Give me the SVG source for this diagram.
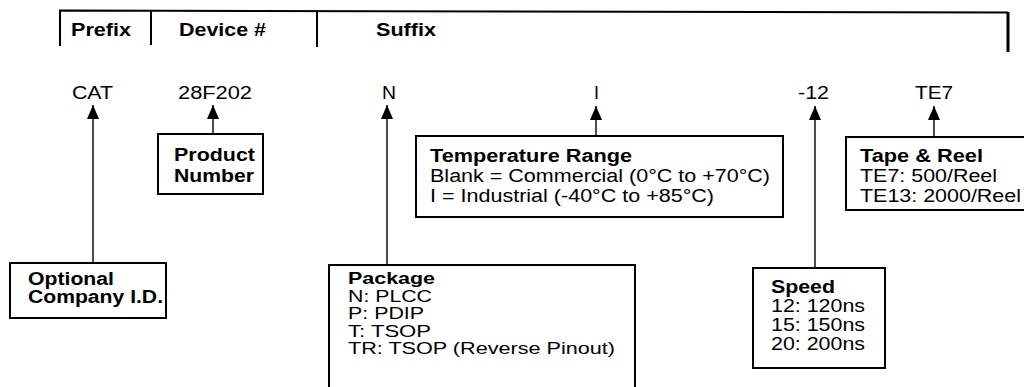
<svg xmlns="http://www.w3.org/2000/svg" width="1024" height="387" viewBox="0 0 1024 387">
<defs>
<style>
text{font-family:"Liberation Sans",Arial,sans-serif;font-size:18px;fill:#000;}
.b{font-weight:bold;}
.s{font-size:16px;}
.box{fill:#fff;stroke:#000;stroke-width:2;}
.hdr{stroke:#000;stroke-width:2;fill:none;}
.conn{stroke:#000;stroke-width:1.4;fill:none;marker-end:url(#ah);}
</style>
<marker id="ah" markerUnits="userSpaceOnUse" markerWidth="14" markerHeight="12" viewBox="0 0 14 12" refX="14" refY="6" orient="auto">
<path d="M0,0 L14,6 L0,12 Z" fill="#000"/>
</marker>
</defs>
<rect width="1024" height="387" fill="#fff"/>
<g id="header">
<path class="hdr" d="M60,46 V10.5 L1008,12.5"/>
<path class="hdr" d="M151,10.5 V45"/>
<path class="hdr" d="M317,11 V47"/>
<path d="M1008,12 V52" stroke="#000" stroke-width="3" fill="none"/>
<text class="b" x="71" y="36" textLength="60" lengthAdjust="spacingAndGlyphs">Prefix</text>
<text class="b" x="179" y="36" textLength="87" lengthAdjust="spacingAndGlyphs">Device #</text>
<text class="b" x="376" y="36" textLength="60" lengthAdjust="spacingAndGlyphs">Suffix</text>
</g>
<g id="codes">
<text x="72" y="99" textLength="41" lengthAdjust="spacingAndGlyphs">CAT</text>
<text x="178" y="99" textLength="74" lengthAdjust="spacingAndGlyphs">28F202</text>
<text x="382" y="99" textLength="14" lengthAdjust="spacingAndGlyphs">N</text>
<text x="594" y="99" textLength="5" lengthAdjust="spacingAndGlyphs">I</text>
<text x="798" y="99" textLength="31" lengthAdjust="spacingAndGlyphs">-12</text>
<text x="915" y="99" textLength="38" lengthAdjust="spacingAndGlyphs">TE7</text>
</g>
<g id="connectors">
<line class="conn" x1="93" y1="263" x2="93" y2="105"/>
<line class="conn" x1="213" y1="134" x2="213" y2="105"/>
<line class="conn" x1="387" y1="265" x2="387" y2="105"/>
<line class="conn" x1="596" y1="136" x2="596" y2="106"/>
<line class="conn" x1="815" y1="268" x2="815" y2="106"/>
<line class="conn" x1="934" y1="137" x2="934" y2="106"/>
</g>
<g id="product-number">
<rect class="box" x="158" y="134" width="105" height="60"/>
<text class="b" x="174" y="161" textLength="81" lengthAdjust="spacingAndGlyphs">Product</text>
<text class="b" x="174" y="182" textLength="80" lengthAdjust="spacingAndGlyphs">Number</text>
</g>
<g id="company-id">
<rect class="box" x="10" y="263" width="156" height="55"/>
<text class="b" x="28" y="285" textLength="86" lengthAdjust="spacingAndGlyphs">Optional</text>
<text class="b" x="28" y="303" textLength="135" lengthAdjust="spacingAndGlyphs">Company I.D.</text>
</g>
<g id="package">
<rect class="box" x="329" y="265" width="306" height="140"/>
<text class="b s" x="348" y="284" textLength="87" lengthAdjust="spacingAndGlyphs">Package</text>
<text class="s" x="348" y="301.5" textLength="84" lengthAdjust="spacingAndGlyphs">N: PLCC</text>
<text class="s" x="348" y="319" textLength="76" lengthAdjust="spacingAndGlyphs">P: PDIP</text>
<text class="s" x="348" y="336.5" textLength="83" lengthAdjust="spacingAndGlyphs">T: TSOP</text>
<text class="s" x="348" y="354" textLength="267" lengthAdjust="spacingAndGlyphs">TR: TSOP (Reverse Pinout)</text>
</g>
<g id="temperature-range">
<rect class="box" x="416" y="136" width="367" height="81"/>
<text class="b" x="430" y="162" textLength="202" lengthAdjust="spacingAndGlyphs">Temperature Range</text>
<text x="430" y="182" textLength="340" lengthAdjust="spacingAndGlyphs">Blank = Commercial (0°C to +70°C)</text>
<text x="430" y="202" textLength="284" lengthAdjust="spacingAndGlyphs">I = Industrial (-40°C to +85°C)</text>
</g>
<g id="speed">
<rect class="box" x="753" y="268" width="132" height="100"/>
<text class="b" x="771" y="293" textLength="64" lengthAdjust="spacingAndGlyphs">Speed</text>
<text x="771" y="312" textLength="94" lengthAdjust="spacingAndGlyphs">12: 120ns</text>
<text x="771" y="331" textLength="94" lengthAdjust="spacingAndGlyphs">15: 150ns</text>
<text x="771" y="350" textLength="94" lengthAdjust="spacingAndGlyphs">20: 200ns</text>
</g>
<g id="tape-reel">
<rect class="box" x="846" y="137" width="190" height="73"/>
<text class="b" x="860" y="162" textLength="123" lengthAdjust="spacingAndGlyphs">Tape &amp; Reel</text>
<text x="860" y="182" textLength="137" lengthAdjust="spacingAndGlyphs">TE7: 500/Reel</text>
<text x="860" y="202" textLength="161" lengthAdjust="spacingAndGlyphs">TE13: 2000/Reel</text>
</g>
</svg>
